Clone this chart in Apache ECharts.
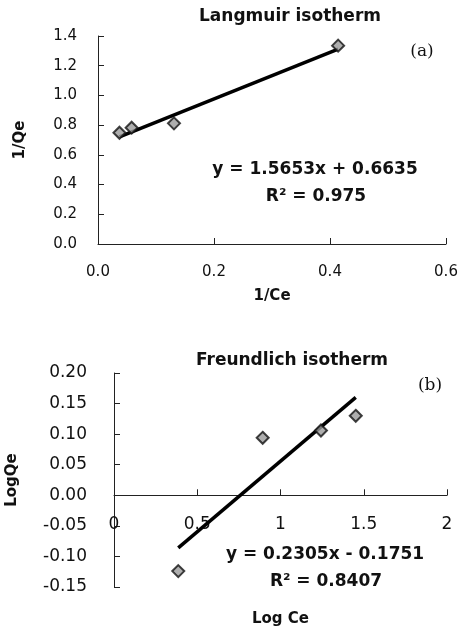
<!DOCTYPE html>
<html>
<head>
<meta charset="utf-8">
<script src="https://cdn.jsdelivr.net/npm/echarts@6/dist/echarts.min.js"></script>
<style>html,body{margin:0;padding:0;background:#fff;}#c{width:465px;height:633px;}</style>
</head>
<body>
<div id="c"></div>
<script>
// Langmuir isotherm (a)
var langX = [0.037, 0.058, 0.131, 0.414];
var langY = [0.749, 0.783, 0.812, 1.335];
var langTrendX = [0.037, 0.414];
var langTrendY = [0.721, 1.311];
var langXTicks = ['0.0', '0.2', '0.4', '0.6'];
var langYTicks = ['0.0', '0.2', '0.4', '0.6', '0.8', '1.0', '1.2', '1.4'];

// Freundlich isotherm (b)
var freuX = [0.386, 0.893, 1.243, 1.452];
var freuY = [-0.124, 0.094, 0.106, 0.130];
var freuTrendX = [0.386, 1.452];
var freuTrendY = [-0.086, 0.160];
var freuXTicks = ['0', '0.5', '1', '1.5', '2'];
var freuYTicks = ['-0.15', '-0.10', '-0.05', '0.00', '0.05', '0.10', '0.15', '0.20'];

function zip(a, b) { return a.map(function (v, i) { return [v, b[i]]; }); }

var tickFontA = { fontFamily: 'DejaVu Sans', fontSize: 15, color: '#111' };
var tickFontB = { fontFamily: 'DejaVu Sans', fontSize: 17, color: '#111' };
var nameFont = { fontFamily: 'DejaVu Sans', fontSize: 15, fontWeight: 'bold', color: '#111' };
var axisLine = { show: true, onZero: true, lineStyle: { color: '#222', width: 1 } };
var axisTick = { show: true, inside: true, length: 6, lineStyle: { color: '#222', width: 1 } };

function tickFormatter(list, min, interval) {
  return function (v) {
    var idx = Math.round((v - min) / interval);
    return list[idx] !== undefined ? list[idx] : '';
  };
}

var chart = echarts.init(document.getElementById('c'), null, { renderer: 'canvas' });
var markerStyle = { color: '#9a9a9a', borderColor: '#111', borderWidth: 2 };
var lineStyle = { color: '#000', width: 3.5 };

chart.setOption({
  animation: false,
  backgroundColor: '#fff',
  grid: [
    { left: 98, top: 36, width: 348, height: 208, containLabel: false, outerBoundsMode: 'none' },
    { left: 114, top: 373, width: 333, height: 214, containLabel: false, outerBoundsMode: 'none' }
  ],
  xAxis: [
    {
      gridIndex: 0, type: 'value', min: 0, max: 0.6, interval: 0.2,
      axisLine: axisLine, axisTick: axisTick, splitLine: { show: false },
      axisLabel: Object.assign({ margin: 21, formatter: tickFormatter(langXTicks, 0, 0.2) }, tickFontA),
      name: '1/Ce', nameLocation: 'middle', nameGap: 45, nameTextStyle: nameFont
    },
    {
      gridIndex: 1, type: 'value', min: 0, max: 2, interval: 0.5,
      axisLine: axisLine, axisTick: axisTick, splitLine: { show: false },
      axisLabel: Object.assign({ margin: -71, formatter: tickFormatter(freuXTicks, 0, 0.5) }, tickFontB),
      name: 'Log Ce', nameLocation: 'middle', nameGap: 25, nameTextStyle: nameFont
    }
  ],
  yAxis: [
    {
      gridIndex: 0, type: 'value', min: 0, max: 1.4, interval: 0.2,
      axisLine: axisLine, axisTick: axisTick, splitLine: { show: false },
      axisLabel: Object.assign({ margin: 21, formatter: tickFormatter(langYTicks, 0, 0.2) }, tickFontA),
      name: '1/Qe', nameLocation: 'middle', nameGap: 70, nameRotate: 90, nameTextStyle: nameFont
    },
    {
      gridIndex: 1, type: 'value', min: -0.15, max: 0.2, interval: 0.05,
      axisLine: axisLine, axisTick: axisTick, splitLine: { show: false },
      axisLabel: Object.assign({ margin: 27, formatter: tickFormatter(freuYTicks, -0.15, 0.05) }, tickFontB),
      name: 'LogQe', nameLocation: 'middle', nameGap: 94, nameRotate: 90, nameTextStyle: nameFont
    }
  ],
  series: [
    {
      type: 'line', xAxisIndex: 0, yAxisIndex: 0, data: zip(langTrendX, langTrendY),
      showSymbol: false, symbol: 'none', lineStyle: lineStyle, silent: true, z: 2
    },
    {
      type: 'scatter', xAxisIndex: 0, yAxisIndex: 0, data: zip(langX, langY),
      symbol: 'diamond', symbolSize: 12, itemStyle: markerStyle, z: 3
    },
    {
      type: 'line', xAxisIndex: 1, yAxisIndex: 1, data: zip(freuTrendX, freuTrendY),
      showSymbol: false, symbol: 'none', lineStyle: lineStyle, silent: true, z: 2
    },
    {
      type: 'scatter', xAxisIndex: 1, yAxisIndex: 1, data: zip(freuX, freuY),
      symbol: 'diamond', symbolSize: 12, itemStyle: markerStyle, z: 3
    }
  ],
  graphic: [
    { type: 'text', x: 290, y: 17, style: { text: 'Langmuir isotherm', fontFamily: 'DejaVu Sans', fontSize: 17, fontWeight: 'bold', fill: '#111', align: 'center', verticalAlign: 'middle' } },
    { type: 'text', x: 422, y: 52, style: { text: '(a)', fontFamily: 'DejaVu Serif', fontSize: 17, fill: '#111', align: 'center', verticalAlign: 'middle' } },
    { type: 'text', x: 315, y: 170, style: { text: 'y = 1.5653x + 0.6635', fontFamily: 'DejaVu Sans', fontSize: 17, fontWeight: 'bold', fill: '#111', align: 'center', verticalAlign: 'middle' } },
    { type: 'text', x: 316, y: 197, style: { text: 'R\u00b2 = 0.975', fontFamily: 'DejaVu Sans', fontSize: 17, fontWeight: 'bold', fill: '#111', align: 'center', verticalAlign: 'middle' } },
    { type: 'text', x: 292, y: 361, style: { text: 'Freundlich isotherm', fontFamily: 'DejaVu Sans', fontSize: 17, fontWeight: 'bold', fill: '#111', align: 'center', verticalAlign: 'middle' } },
    { type: 'text', x: 430, y: 386, style: { text: '(b)', fontFamily: 'DejaVu Serif', fontSize: 17, fill: '#111', align: 'center', verticalAlign: 'middle' } },
    { type: 'text', x: 325, y: 555, style: { text: 'y = 0.2305x - 0.1751', fontFamily: 'DejaVu Sans', fontSize: 17, fontWeight: 'bold', fill: '#111', align: 'center', verticalAlign: 'middle' } },
    { type: 'text', x: 326, y: 582, style: { text: 'R\u00b2 = 0.8407', fontFamily: 'DejaVu Sans', fontSize: 17, fontWeight: 'bold', fill: '#111', align: 'center', verticalAlign: 'middle' } }
  ]
});
</script>
</body>
</html>
